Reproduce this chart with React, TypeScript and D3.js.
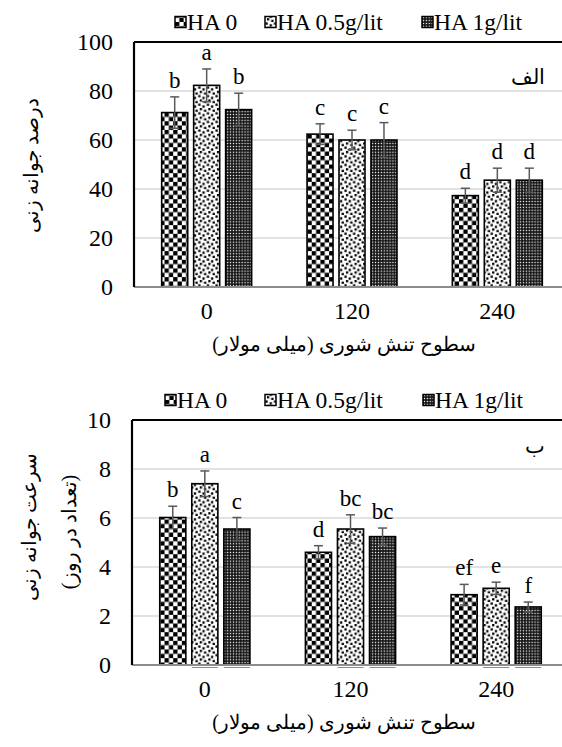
import React from 'react';
import * as d3 from 'd3';

// salinity levels (mM)
const categories = ['0', '120', '240'];
const seriesNames = ['HA 0', 'HA 0.5g/lit', 'HA 1g/lit'];

// germination percent
const pctHA0 = [71.2, 62.4, 37.3];
const pctHA05 = [82.3, 60.0, 43.6];
const pctHA1 = [72.4, 60.0, 43.6];
const pctErrHA0 = [6.4, 4.2, 3.0];
const pctErrHA05 = [6.7, 4.0, 4.9];
const pctErrHA1 = [6.7, 7.1, 4.9];
const pctLetHA0 = ['b', 'c', 'd'];
const pctLetHA05 = ['a', 'c', 'd'];
const pctLetHA1 = ['b', 'c', 'd'];
const pctTicks = [0, 20, 40, 60, 80, 100];

// germination rate (per day)
const rateHA0 = [6.02, 4.6, 2.87];
const rateHA05 = [7.4, 5.55, 3.13];
const rateHA1 = [5.55, 5.24, 2.37];
const rateErrHA0 = [0.46, 0.27, 0.42];
const rateErrHA05 = [0.52, 0.58, 0.25];
const rateErrHA1 = [0.47, 0.35, 0.2];
const rateLetHA0 = ['b', 'd', 'ef'];
const rateLetHA05 = ['a', 'bc', 'e'];
const rateLetHA1 = ['c', 'bc', 'f'];
const rateTicks = [0, 2, 4, 6, 8, 10];

const xTitle = 'سطوح تنش شوری (میلی مولار)';
const FONT = "'Times New Roman', 'Liberation Serif', 'DejaVu Serif', serif";
const patterns = ['pat-checker', 'pat-confetti', 'pat-dense'];

function Panel(props) {
	const { top, bottom, left, right, values, errors, letters, ticks, legendY, legendX, tag, tagY, gapMarks } = props;
	const x = d3.scaleBand().domain(categories).range([left, right]);
	const y = d3.scaleLinear().domain([ticks[0], ticks[ticks.length - 1]]).range([bottom, top]);
	const step = x.step();
	const barW = step * 0.179;
	const offset = step * 0.22;
	const center = (c) => x(c) + step / 2;

	return (
		<g>
			{/* gridlines */}
			{ticks.slice(1, -1).map(t => (
				<line key={'g' + t} x1={left} x2={562} y1={y(t)} y2={y(t)} stroke="#d9d9d9" strokeWidth={1.5} />
			))}
			{/* y tick labels */}
			{ticks.map(t => (
				<text key={'t' + t} x={left - 21} y={y(t)} dy="0.35em" textAnchor="end" fontSize={24} fontFamily={FONT}>{t}</text>
			))}
			{/* bars */}
			{values.map((ser, si) => ser.map((v, ci) => {
				const cx = center(categories[ci]) + (si - 1) * offset;
				const e = errors[si][ci];
				return (
					<g key={si + '-' + ci}>
						<rect x={cx - barW / 2} y={y(v)} width={barW} height={y(0) - y(v)}
							fill={`url(#${patterns[si]})`} stroke="#000" strokeWidth={1.6} />
						{gapMarks && si > 0 ? (
							<line x1={cx - barW / 2} x2={cx + barW / 2} y1={y(0) + 2.5} y2={y(0) + 2.5} stroke="#8c8c8c" strokeWidth={1} />
						) : null}
						<line x1={cx} x2={cx} y1={y(v + e)} y2={y(v - e)} stroke="#595959" strokeWidth={1.5} />
						<line x1={cx - 4.5} x2={cx + 4.5} y1={y(v + e)} y2={y(v + e)} stroke="#595959" strokeWidth={1.5} />
						<line x1={cx - 4.5} x2={cx + 4.5} y1={y(v - e)} y2={y(v - e)} stroke="#595959" strokeWidth={1.5} />
						<text x={cx} y={y(v + e) - 9} textAnchor="middle" fontSize={23} fontFamily={FONT}>{letters[si][ci]}</text>
					</g>
				);
			}))}
			{/* frame */}
			<line x1={left} x2={562} y1={y(0)} y2={y(0)} stroke="#8c8c8c" strokeWidth={2} />
			<line x1={left} x2={562} y1={top} y2={top} stroke="#000" strokeWidth={2.2} />
			<line x1={left} x2={left} y1={top} y2={y(0)} stroke="#000" strokeWidth={2.2} />
			{/* x tick labels */}
			{categories.map(c => (
				<text key={'x' + c} x={center(c)} y={y(0) + 32} textAnchor="middle" fontSize={24} fontFamily={FONT}>{c}</text>
			))}
			<text x={344} y={y(0) + 64} textAnchor="middle" fontSize={20} fontFamily={FONT} style={{ direction: 'rtl' }}>{xTitle}</text>
			{/* panel tag */}
			<text x={545} y={tagY} textAnchor="end" fontSize={21} fontFamily={FONT}>{tag}</text>
			{/* legend */}
			{seriesNames.map((n, i) => (
				<g key={n} transform={`translate(${legendX[i]},${legendY})`}>
					<rect x={0} y={-5.5} width={11} height={11} fill={`url(#${patterns[i]})`} stroke="#000" strokeWidth={1.5} />
					<text x={12} y={0} dy="0.35em" fontSize={23.5} fontFamily={FONT}>{n}</text>
				</g>
			))}
		</g>
	);
}

export default function App() {
	return (
		<svg width={562} height={747} style={{ position: 'absolute', left: 0, top: 0, background: '#fff' }}>
			<defs>
				<pattern id="pat-checker" patternUnits="userSpaceOnUse" width={8.66} height={8.66}>
					<rect width={8.66} height={8.66} fill="#fff" />
					<rect width={4.33} height={4.33} fill="#000" />
					<rect x={4.33} y={4.33} width={4.33} height={4.33} fill="#000" />
				</pattern>
				<pattern id="pat-confetti" patternUnits="userSpaceOnUse" width={8.6} height={8.6}>
					<rect width={8.6} height={8.6} fill="#fff" />
					<rect x={0.4} y={0.4} width={2.3} height={2.3} fill="#000" />
					<rect x={4.6} y={2.2} width={2.3} height={2.3} fill="#000" />
					<rect x={1.9} y={4.8} width={2.3} height={2.3} fill="#000" />
					<rect x={6.2} y={6.4} width={2.3} height={2.3} fill="#000" />
				</pattern>
				<pattern id="pat-dense" patternUnits="userSpaceOnUse" width={2.9} height={2.9}>
					<rect width={2.9} height={2.9} fill="#111" />
					<rect x={0.8} y={0.8} width={1.3} height={1.3} fill="#fff" />
				</pattern>
			</defs>

			<Panel top={42} bottom={287} left={134} right={570}
				values={[pctHA0, pctHA05, pctHA1]} errors={[pctErrHA0, pctErrHA05, pctErrHA1]}
				letters={[pctLetHA0, pctLetHA05, pctLetHA1]} ticks={pctTicks}
				legendY={22} legendX={[175, 265, 422]} tag="الف" tagY={84} gapMarks={false} />
			<text transform="translate(38,165) rotate(-90)" textAnchor="middle" fontSize={20} fontFamily={FONT} style={{ direction: 'rtl' }}>درصد جوانه زنی</text>

			<Panel top={420} bottom={665} left={132} right={569}
				values={[rateHA0, rateHA05, rateHA1]} errors={[rateErrHA0, rateErrHA05, rateErrHA1]}
				letters={[rateLetHA0, rateLetHA05, rateLetHA1]} ticks={rateTicks}
				legendY={400} legendX={[165, 265, 423]} tag="ب" tagY={453} gapMarks={true} />
			<text transform="translate(36,527) rotate(-90)" textAnchor="middle" fontSize={20} fontFamily={FONT} style={{ direction: 'rtl' }}>سرعت جوانه زنی</text>
			<text transform="translate(76,532) rotate(-90)" textAnchor="middle" fontSize={20} fontFamily={FONT} style={{ direction: 'rtl' }}>(تعداد در روز)</text>
		</svg>
	);
}
